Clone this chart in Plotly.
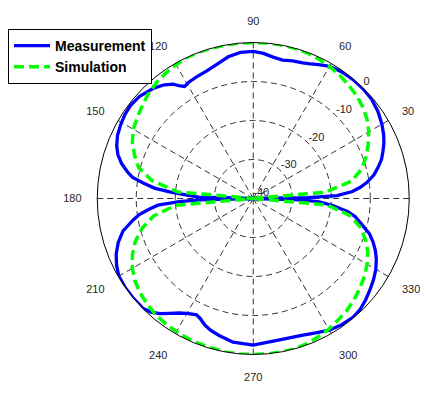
import plotly.graph_objects as go

# ---------------- data ----------------
meas_theta = [0, 1, 2, 4, 6, 8, 11, 14, 17, 20, 23, 26, 30, 35, 40, 45, 50, 55, 58, 61,
              64, 67, 70, 74, 78, 82, 86, 90, 95, 100, 105, 110, 115, 119, 121.5, 123,
              125, 128, 132, 138, 143, 147, 151, 155, 159, 162, 165, 168, 170, 172, 174,
              175.5, 177, 178.5, 180, 181.5, 182.5, 184, 186, 188, 190, 192, 194, 198,
              202, 206, 210, 215, 220, 225, 228, 231, 234, 237, 240, 244, 246, 249, 252,
              256, 262, 270, 278, 284, 290, 295, 300, 305, 310, 314, 318, 322, 326, 330,
              334, 337, 340, 343, 346, 350, 352, 355, 357, 358.5, 360]
meas_db = [-40, -26, -18.5, -14.5, -12.4, -10.6, -8.5, -7.0, -5.6, -4.6, -3.6, -2.8, -1.9,
           -1.0, -0.4, -0.2, -0.2, -0.4, -0.7, -1.1, -1.8, -2.5, -3.0, -3.3, -3.7, -3.4,
           -2.7, -2.3, -2.4, -3.1, -4.3, -5.2, -5.6, -5.9, -6.3, -5.6, -4.2, -3.0, -1.9,
           -0.8, -0.5, -0.7, -1.1, -1.6, -2.5, -3.5, -5.0, -7.0, -8.5, -11.5, -14.5,
           -18.5, -23, -26, -40, -26, -21, -15.5, -13.0, -10.5, -8.8, -7.3, -5.6, -3.6,
           -2.1, -1.0, -0.2, 0, 0, -0.1, -0.8, -2.0, -3.6, -5.0, -6.0, -6.8, -6.4, -5.3,
           -4.5, -3.8, -2.8, -2.4, -3.1, -3.1, -2.7, -2.0, -1.0, -0.5, -0.2, -0.5, -1.2,
           -2.0, -2.8, -3.7, -4.9, -6.0, -7.3, -8.8, -11.0, -13.5, -15.5, -19.5, -23,
           -28, -40]

sim_theta = list(range(0, 365, 5))
sim_db = [-40, -21.5, -14.5, -11.3, -9.3, -7.5, -5.8, -4.4, -3.4, -2.6, -2.0, -1.4, -0.9,
          -0.5, -0.2, 0, 0, 0, 0, 0, 0, 0, 0, 0, -0.4, -0.8, -1.3, -2.0, -2.9, -3.7, -4.5,
          -5.8, -7.6, -9.6, -13.7, -20.5, -40, -20, -14, -10.5, -7.8, -5.8, -4.2, -3.0,
          -2.2, -1.6, -1.1, -0.8, -0.6, -0.4, -0.3, -0.2, 0, 0, 0, 0, 0, 0, -0.3, -0.8,
          -1.3, -2.0, -2.6, -3.4, -4.3, -5.2, -6.3, -7.6, -9.4, -11.6, -14.8, -21, -40]

angle_ticks = list(range(0, 360, 30))
angle_labels = [str(a) for a in angle_ticks]
ring_values = [-40, -30, -20, -10, 0]
ring_labels = [str(v) for v in ring_values]

# ---------------- style ----------------
RING_LABEL_ANGLE = 45
FONT = "Liberation Sans, Arial, sans-serif"

fig = go.Figure()

fig.add_trace(go.Scatterpolar(
    r=meas_db, theta=meas_theta, mode="lines", name="Measurement",
    line=dict(color="#0000FF", width=3.3), legendgroup="m"))
fig.add_trace(go.Scatterpolar(
    r=sim_db, theta=sim_theta, mode="lines", name="Simulation",
    line=dict(color="#00FF00", width=3.5, dash="10px,5px"), legendgroup="s"))
fig.add_trace(go.Scatterpolar(
    r=ring_values, theta=[RING_LABEL_ANGLE] * len(ring_values), mode="text",
    text=ring_labels, textposition="top right",
    textfont=dict(family=FONT, size=11, color="#262626"),
    showlegend=False, hoverinfo="skip"))

# page body has an 8px margin: figure is 420x386 placed at (8, 8)
W, H = 420, 386
cx, cy, R = 245.25, 190.5, 156.0

fig.update_layout(
    width=W, height=H, autosize=False,
    margin=dict(l=0, r=0, t=0, b=0),
    paper_bgcolor="white",
    font=dict(family=FONT, size=11, color="#262626"),
    polar=dict(
        domain=dict(x=[(cx - R) / W, (cx + R) / W], y=[1 - (cy + R) / H, 1 - (cy - R) / H]),
        bgcolor="white",
        radialaxis=dict(range=[-40, 0], tickvals=ring_values, showticklabels=False,
                        ticks="", showline=False, showgrid=True,
                        gridcolor="#333333", gridwidth=0.8, griddash="6px,4px"),
        angularaxis=dict(rotation=0, direction="counterclockwise",
                         tickmode="array", tickvals=angle_ticks, ticktext=angle_labels,
                         ticks="outside", ticklen=13, tickcolor="rgba(0,0,0,0)",
                         tickfont=dict(family=FONT, size=11, color="#262626"),
                         showline=True, linecolor="black", linewidth=1,
                         showgrid=True, gridcolor="#333333", gridwidth=0.8,
                         griddash="6px,4px"),
    ),
    legend=dict(x=0, y=1 - 21 / H, xanchor="left", yanchor="top",
                bgcolor="white", bordercolor="black", borderwidth=1,
                font=dict(family=FONT, size=14, color="black", weight="bold"),
                tracegroupgap=0, traceorder="grouped", itemwidth=36),
    showlegend=True,
)

fig.write_html("out.html")
